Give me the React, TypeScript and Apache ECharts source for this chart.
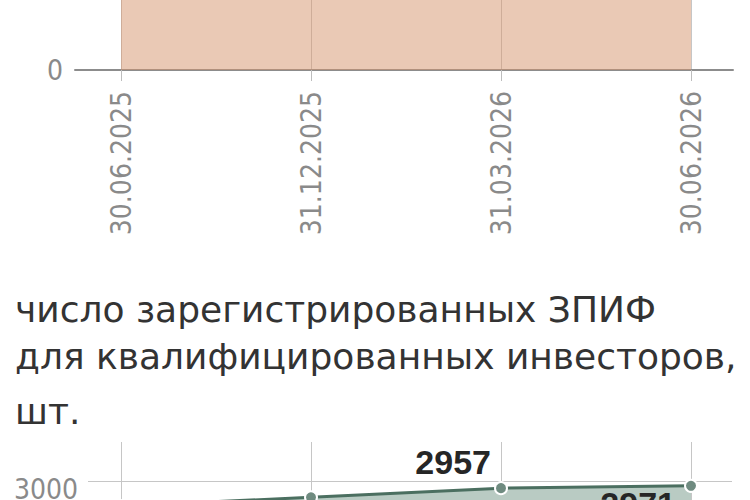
import React, { useEffect, useRef } from 'react';
import * as echarts from 'echarts';

// даты отчётов (общие для обоих графиков)
const dates = ['30.06.2025', '31.12.2025', '31.03.2026', '30.06.2026'];

// верхний график: видна только нижняя часть области, значения оценочные
const topValues = [6.1, 6.4, 6.7, 7.0];
const topAxisMax = 8;

// нижний график: число зарегистрированных ЗПИФ для квалинвесторов, шт.
const fundCounts = [2850, 2902, 2957, 2971];
const labelledIdx = [2, 3];
const fundAxisMin = 2500;
const fundAxisMax = 3234;
const fundAxisStep = 500;

const titleLines = [
  'число зарегистрированных ЗПИФ',
  'для квалифицированных инвесторов,',
  'шт.',
];

// холст выше и ниже окна: графики обрезаны краями кадра
const OFF = 300;
const CANVAS_H = 950;

const narrowFont = '"DejaVu Sans Condensed", sans-serif';
const gridColor = '#c6c6c6';
const labelColor = '#8a8a8a';

const App: React.FC = () => {
  const chartRef = useRef<HTMLDivElement>(null);

  useEffect(() => {
    if (!chartRef.current) return;
    document.body.style.overflow = 'hidden';
    const chart = echarts.init(chartRef.current, undefined, { renderer: 'svg' });

    // подписи точек: 2957 слева сверху, 2971 слева снизу
    const labelPlacement: Record<number, any> = {
      2: { position: 'left', distance: 3, offset: [0, -26] },
      3: { position: 'left', distance: 8, offset: [0, 18] },
    };

    const fundData = fundCounts.map((v, i) => ({
      value: v,
      label: labelledIdx.includes(i)
        ? { show: true, ...labelPlacement[i] }
        : { show: false },
    }));

    const titleY = [309, 356, 411];

    const option = {
      animation: false,
      graphic: titleLines.map((t, i) => ({
        type: 'text',
        x: 15,
        y: titleY[i] + OFF,
        style: {
          text: t,
          fill: '#333',
          font: '36px "DejaVu Sans", sans-serif',
          verticalAlign: 'middle',
        },
      })),
      grid: [
        // 0: фон верхнего графика (линия оси, подпись 0)
        { left: 75, right: 17, top: OFF - 230, bottom: CANVAS_H - (OFF + 70) },
        // 1: верхний график
        { left: 121, right: 59, top: OFF - 230, bottom: CANVAS_H - (OFF + 70) },
        // 2: фон нижнего графика (линия 3000)
        { left: 88, right: 18, top: OFF + 481, bottom: CANVAS_H - (OFF + 564.3) },
        // 3: нижний график
        { left: 121, right: 59, top: OFF + 442, bottom: CANVAS_H - (OFF + 564.3) },
      ],
      xAxis: [
        {
          type: 'value',
          gridIndex: 0,
          min: 0,
          max: 1,
          axisLine: { show: true, lineStyle: { color: '#8c8c8c', width: 2 } },
          axisTick: { show: false },
          axisLabel: { show: false },
          splitLine: { show: false },
        },
        {
          type: 'category',
          gridIndex: 1,
          data: dates,
          boundaryGap: false,
          axisLine: { show: false },
          axisTick: { show: true, length: 11, lineStyle: { color: '#bdbdbd' } },
          axisLabel: {
            rotate: 90,
            margin: 21,
            color: labelColor,
            fontFamily: narrowFont,
            fontSize: 28,
          },
          splitLine: { show: true, lineStyle: { color: gridColor } },
        },
        {
          type: 'value',
          gridIndex: 2,
          min: 0,
          max: 1,
          show: false,
        },
        {
          type: 'category',
          gridIndex: 3,
          data: dates,
          boundaryGap: false,
          axisLine: { show: false },
          axisTick: { show: false },
          axisLabel: { show: false },
          splitLine: { show: true, lineStyle: { color: gridColor } },
        },
      ],
      yAxis: [
        {
          type: 'value',
          gridIndex: 0,
          min: 0,
          max: topAxisMax,
          interval: topAxisMax,
          axisLine: { show: false },
          axisTick: { show: false },
          splitLine: { show: false },
          axisLabel: {
            margin: 12,
            color: labelColor,
            fontFamily: narrowFont,
            fontSize: 28,
            showMaxLabel: false,
            formatter: (v: number) => String(v),
          },
        },
        {
          type: 'value',
          gridIndex: 1,
          min: 0,
          max: topAxisMax,
          show: false,
        },
        {
          type: 'value',
          gridIndex: 2,
          min: fundAxisMin,
          max: 3000,
          interval: fundAxisStep,
          axisLine: { show: false },
          axisTick: { show: false },
          splitLine: { show: true, lineStyle: { color: gridColor } },
          axisLabel: {
            margin: 10,
            color: labelColor,
            fontFamily: narrowFont,
            fontSize: 28,
            verticalAlign: 'top',
            lineHeight: 16,
            showMinLabel: false,
            formatter: (v: number) => String(v),
          },
        },
        {
          type: 'value',
          gridIndex: 3,
          min: fundAxisMin,
          max: fundAxisMax,
          show: false,
        },
      ],
      series: [
        {
          type: 'line',
          xAxisIndex: 1,
          yAxisIndex: 1,
          data: topValues,
          symbol: 'none',
          lineStyle: { color: '#d09a7a', width: 2 },
          areaStyle: { color: 'rgba(213,147,107,0.5)', opacity: 1 },
        },
        {
          type: 'line',
          xAxisIndex: 3,
          yAxisIndex: 3,
          data: fundData,
          symbol: 'circle',
          symbolSize: 12,
          itemStyle: { color: '#6f8b80', borderColor: '#ffffff', borderWidth: 2 },
          lineStyle: { color: '#4b6f60', width: 3 },
          areaStyle: { color: '#b9cbc3', opacity: 1, origin: 'start' },
          label: {
            color: '#262626',
            fontFamily: '"Liberation Sans", Arial, sans-serif',
            fontWeight: 'bold',
            fontSize: 34,
          },
        },
      ],
    };

    chart.setOption(option);

    const handleResize = () => chart.resize();
    window.addEventListener('resize', handleResize);
    return () => {
      window.removeEventListener('resize', handleResize);
      chart.dispose();
    };
  }, []);

  return (
    <div
      ref={chartRef}
      style={{
        position: 'fixed',
        left: 0,
        top: -OFF,
        width: 750,
        height: CANVAS_H,
        background: '#fff',
      }}
    />
  );
};

export default App;
